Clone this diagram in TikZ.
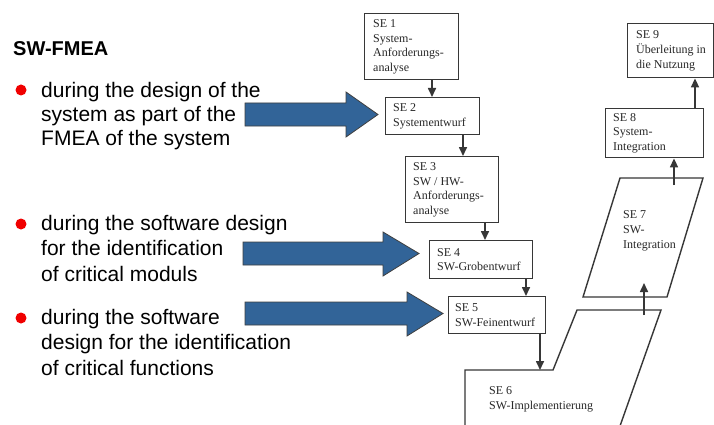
\documentclass[tikz,border=0pt]{standalone}
\usepackage{fontspec}
\setmainfont{Liberation Sans}
\newfontfamily\boxfont{Liberation Serif}
\usetikzlibrary{arrows.meta}
\definecolor{bluearrow}{RGB}{50,100,152}
\definecolor{linegray}{RGB}{55,55,55}
\definecolor{textgray}{RGB}{40,40,40}
\definecolor{bulletred}{RGB}{240,0,0}
\begin{document}
\begin{tikzpicture}[x=1pt,y=-1pt,
  box/.style={draw=linegray, line width=1.4pt, inner sep=0pt, anchor=north west},
  boxtext/.style={inner sep=0pt, align=left, anchor=west, text=textgray,
    font=\boxfont\fontsize{12}{14.7}\selectfont},
  flow/.style={draw=linegray, line width=1.6pt, -{Triangle[width=8pt,length=9pt]}},
  shapeline/.style={draw=linegray, line width=1.4pt},
  bigarrow/.style={fill=bluearrow, draw=black!75, line width=0.8pt, line join=miter},
  bullettext/.style={inner sep=0pt, align=left, anchor=north west},
  bulletdot/.style={fill=bulletred, draw=none}]
\useasboundingbox[fill=white] (0,0) rectangle (714,425);

% left text
\node[inner sep=0pt, anchor=base west, font=\bfseries\fontsize{20}{24}\selectfont] (title) at (13,56) {SW-FMEA};
\fill[bulletdot] (21,90) circle (5.5);
\fill[bulletdot] (21,224) circle (5.5);
\fill[bulletdot] (21,318) circle (5.5);
\node[bullettext, font=\fontsize{21}{24}\selectfont] (b1) at (41,82)
  {during the design of the\\system as part of the\\FMEA of the system};
\node[bullettext, font=\fontsize{21}{25.5}\selectfont] (b2) at (41,215)
  {during the software design\\for the identification\\of critical moduls};
\node[bullettext, font=\fontsize{21}{25.5}\selectfont] (b3) at (41,309)
  {during the software\\design for the identification\\of critical functions};

% blue arrows
\draw[bigarrow] (245,103) -- (346,103) -- (346,92) -- (378,114.5) -- (346,137) -- (346,126) -- (245,126) -- cycle;
\draw[bigarrow] (243,242) -- (383,242) -- (383,232) -- (419,253.5) -- (383,276) -- (383,265) -- (243,265) -- cycle;
\draw[bigarrow] (245,302) -- (407,302) -- (407,292) -- (443,313.5) -- (407,336) -- (407,325) -- (245,325) -- cycle;

% boxes
\node[box, minimum width=94pt, minimum height=66pt] (se1) at (364,13) {};
\node[boxtext] (se1t) at ([xshift=9pt]se1.west) {SE 1\\System-\\Anforderungs-\\analyse};
\node[box, minimum width=94pt, minimum height=37pt] (se2) at (385,97) {};
\node[boxtext] (se2t) at ([xshift=8pt]se2.west) {SE 2\\Systementwurf};
\node[box, minimum width=93pt, minimum height=66pt] (se3) at (405,156) {};
\node[boxtext] (se3t) at ([xshift=8pt]se3.west) {SE 3\\SW / HW-\\Anforderungs-\\analyse};
\node[box, minimum width=103pt, minimum height=38pt] (se4) at (429,240) {};
\node[boxtext] (se4t) at ([xshift=8pt]se4.west) {SE 4\\SW-Grobentwurf};
\node[box, minimum width=97pt, minimum height=37pt] (se5) at (448,296) {};
\node[boxtext] (se5t) at ([xshift=7pt]se5.west) {SE 5\\SW-Feinentwurf};
\node[box, minimum width=98pt, minimum height=49pt] (se8) at (605,108) {};
\node[boxtext] (se8t) at ([xshift=8pt]se8.west) {SE 8\\System-\\Integration};
\node[box, minimum width=86pt, minimum height=54pt] (se9) at (627,23) {};
\node[boxtext] (se9t) at ([xshift=9pt]se9.west) {SE 9\\Überleitung in\\die Nutzung};

% SE 6 shape
\coordinate (s6a) at (465,426);
\coordinate (s6b) at (465,370);
\coordinate (s6c) at (553,370);
\coordinate (s6d) at (577,310);
\coordinate (s6e) at (661,310);
\coordinate (s6f) at (620,426);
\draw[shapeline, line join=miter] (s6a) -- (s6b) -- (s6c) -- (s6d) -- (s6e) -- (s6f);
\node[boxtext] (se6t) at (489,399) {SE 6\\SW-Implementierung};

% SE 7 shape
\coordinate (s7a) at (583,297);
\coordinate (s7b) at (620,178);
\coordinate (s7c) at (703,178);
\coordinate (s7d) at (667,297);
\draw[shapeline, line join=miter] (s7a) -- (s7b) -- (s7c) -- (s7d) -- cycle;
\node[boxtext] (se7t) at (623,231) {SE 7\\SW-\\Integration};

% connectors
\coordinate (x12) at (432,0);
\coordinate (x23) at (463,0);
\coordinate (x34) at (485,0);
\coordinate (x45) at (526,0);
\coordinate (x56) at (540,0);
\coordinate (a67s) at (644,315);
\coordinate (a67e) at (644,283);
\coordinate (a78s) at (674,185);
\coordinate (x89) at (695,0);
\draw[flow] (se1.south -| x12) -- (se2.north -| x12);
\draw[flow] (se2.south -| x23) -- (se3.north -| x23);
\draw[flow] (se3.south -| x34) -- (se4.north -| x34);
\draw[flow] (se4.south -| x45) -- (se5.north -| x45);
\draw[flow] (se5.south -| x56) -- (s6b -| x56);
\draw[flow] (a67s) -- (a67e);
\draw[flow] (a78s) -- (se8.south -| a78s);
\draw[flow] (se8.north -| x89) -- (se9.south -| x89);
\end{tikzpicture}
\end{document}
